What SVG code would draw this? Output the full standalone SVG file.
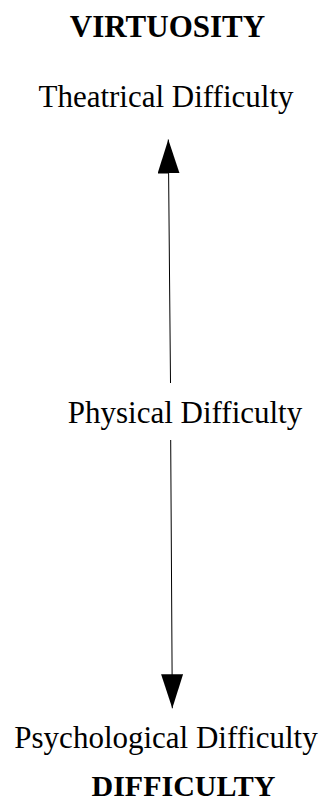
<svg xmlns="http://www.w3.org/2000/svg" width="326" height="804" viewBox="0 0 326 804">
<style>
text{font-family:"Liberation Serif","Times New Roman",serif;fill:#000;text-anchor:middle}
.t{font-size:31px}
.b{font-size:31px;font-weight:bold}
.c{stroke:#000;stroke-width:1;fill:none}
</style>
<defs>
<marker id="ah" markerUnits="userSpaceOnUse" markerWidth="34" markerHeight="22" refX="34" refY="11" orient="auto">
<path d="M0,0 L34,11 L0,22 Z" fill="#000"/>
</marker>
</defs>
<rect width="326" height="804" fill="#fff"/>
<g id="virtuosity"><text class="b" x="167.5" y="37">VIRTUOSITY</text></g>
<g id="theatrical"><text class="t" x="166" y="107">Theatrical Difficulty</text></g>
<g id="physical"><text class="t" x="185" y="423">Physical Difficulty</text></g>
<g id="psychological"><text class="t" x="166" y="748">Psychological Difficulty</text></g>
<g id="difficulty"><text class="b" x="183.5" y="796" style="font-size:30px">DIFFICULTY</text></g>
<g id="connectors">
<line class="c" x1="170.5" y1="383" x2="168.3" y2="139.5" marker-end="url(#ah)"/>
<line class="c" x1="170.7" y1="440" x2="172.3" y2="708.3" marker-end="url(#ah)"/>
</g>
</svg>
